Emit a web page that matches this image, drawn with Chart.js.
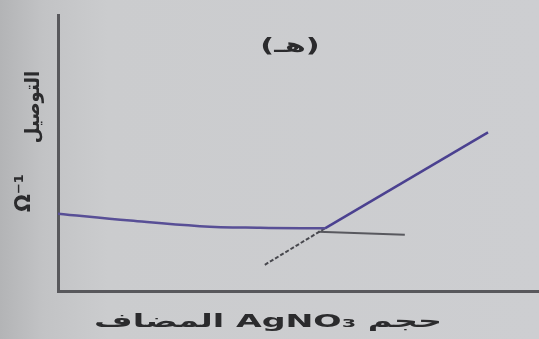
<!DOCTYPE html>
<html lang="ar">
<head>
<meta charset="utf-8">
<script src="https://cdn.jsdelivr.net/npm/chart.js@4"></script>
<style>
  html, body { margin: 0; padding: 0; background: #cacbce; }
  #box { width: 539px; height: 339px; position: relative; }
</style>
</head>
<body>
<div id="box"><canvas id="conductChart"></canvas></div>
<script>
// conductance curve (arbitrary units, 0..100 on both axes)
const xBefore = [0, 15.0, 29.5, 42.0, 55.5];
const yBefore = [28.0, 25.5, 23.5, 22.9, 22.7];
const xAfter = [55.5, 89.4];
const yAfter = [22.7, 57.5];
const xExtDown = [43.0, 55.5];
const yExtDown = [9.5, 22.7];
const xExtFlat = [54.1, 72.1];
const yExtFlat = [21.5, 20.4];

const titleText = '(هـ)';
const yLabelText = 'التوصيل';
const yUnitText = 'Ω⁻¹';
const xLabelText = 'حجم AgNO₃ المضاف';

const pts = (xs, ys) => xs.map((x, i) => ({ x: x, y: ys[i] }));

const paperPlugin = {
    id: 'paperPlugin',
    beforeDraw: (chart) => {
        const { ctx, width, height } = chart;
        ctx.save();
        const g = ctx.createLinearGradient(0, 0, width, 0);
        g.addColorStop(0, '#b3b4b6');
        g.addColorStop(0.08, '#c2c3c5');
        g.addColorStop(0.2, '#cbccce');
        g.addColorStop(1, '#cdced1');
        ctx.fillStyle = g;
        ctx.fillRect(0, 0, width, height);
        ctx.restore();
    }
};

// texts are stretched sideways a bit, the photo was taken at an angle
function stretchedText(ctx, text, x, y, sx) {
    ctx.save();
    ctx.translate(x, y);
    ctx.scale(sx, 1);
    ctx.fillText(text, 0, 0);
    ctx.restore();
}

const textPlugin = {
    id: 'textPlugin',
    afterDraw: (chart) => {
        const { ctx } = chart;
        ctx.save();
        ctx.direction = 'rtl';
        ctx.fillStyle = '#2b2b2d';
        ctx.textAlign = 'center';
        ctx.textBaseline = 'middle';

        ctx.font = 'bold 19px "DejaVu Sans"';
        stretchedText(ctx, titleText, 290, 47, 1.6);

        ctx.font = 'bold 18px "DejaVu Sans"';
        stretchedText(ctx, xLabelText, 268, 322, 1.85);

        ctx.save();
        ctx.translate(34, 107);
        ctx.rotate(-Math.PI / 2);
        ctx.font = 'bold 20px "DejaVu Sans"';
        stretchedText(ctx, yLabelText, 0, 0, 0.9);
        ctx.restore();

        ctx.save();
        ctx.translate(25, 193);
        ctx.rotate(-Math.PI / 2);
        ctx.direction = 'ltr';
        ctx.font = 'bold 21px "DejaVu Sans"';
        ctx.fillText(yUnitText, 0, 0);
        ctx.restore();

        ctx.restore();
    }
};

new Chart(document.getElementById('conductChart'), {
    type: 'line',
    data: {
        datasets: [
            {
                data: pts(xBefore, yBefore),
                borderColor: '#584f96',
                borderWidth: 2.5,
                tension: 0.4,
                pointRadius: 0
            },
            {
                data: pts(xAfter, yAfter),
                borderColor: '#4b4190',
                borderWidth: 2.5,
                pointRadius: 0
            },
            {
                data: pts(xExtDown, yExtDown),
                borderColor: '#48484e',
                borderWidth: 2,
                borderDash: [4, 2],
                pointRadius: 0
            },
            {
                data: pts(xExtFlat, yExtFlat),
                borderColor: '#58585e',
                borderWidth: 2,
                pointRadius: 0
            }
        ]
    },
    options: {
        responsive: true,
        maintainAspectRatio: false,
        animation: false,
        layout: { padding: { top: 15, left: 50, right: 0, bottom: 40 } },
        scales: {
            x: {
                type: 'linear', min: 0, max: 100,
                grid: { display: false },
                ticks: { display: false },
                border: { color: '#58585c', width: 3 }
            },
            y: {
                min: 0, max: 100,
                grid: { display: false },
                ticks: { display: false },
                border: { color: '#58585c', width: 3 }
            }
        },
        plugins: {
            legend: { display: false },
            tooltip: { enabled: false }
        }
    },
    plugins: [paperPlugin, textPlugin]
});
</script>
</body>
</html>
